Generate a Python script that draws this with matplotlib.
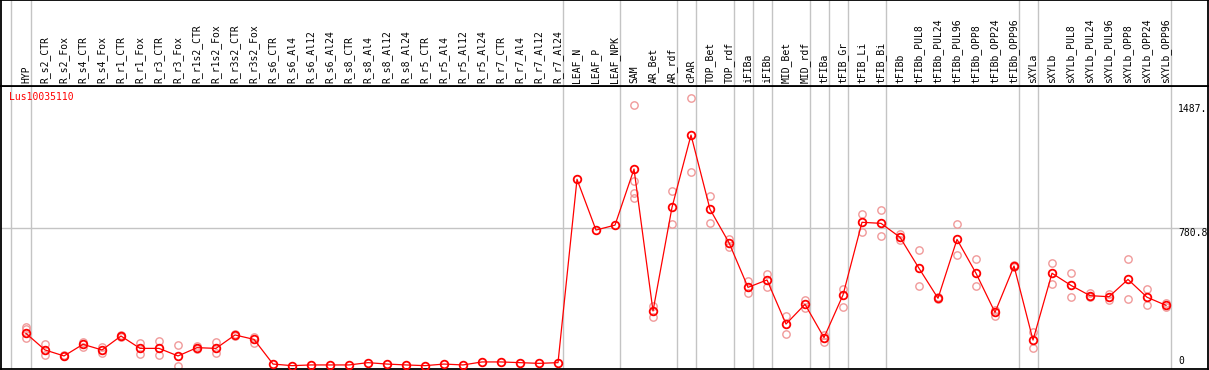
import matplotlib
matplotlib.use("Agg")
import matplotlib.pyplot as plt

# sample names (one column each)
samples = ["HYP",
           "R_s2_CTR", "R_s2_Fox", "R_s4_CTR", "R_s4_Fox", "R_r1_CTR", "R_r1_Fox",
           "R_r3_CTR", "R_r3_Fox", "R_r1s2_CTR", "R_r1s2_Fox", "R_r3s2_CTR", "R_r3s2_Fox",
           "R_s6_CTR", "R_s6_Al4", "R_s6_Al12", "R_s6_Al24",
           "R_s8_CTR", "R_s8_Al4", "R_s8_Al12", "R_s8_Al24",
           "R_r5_CTR", "R_r5_Al4", "R_r5_Al12", "R_r5_Al24",
           "R_r7_CTR", "R_r7_Al4", "R_r7_Al12", "R_r7_Al24",
           "LEAF_N", "LEAF_P", "LEAF_NPK", "SAM", "AR_Bet", "AR_rdf", "cPAR",
           "TOP_Bet", "TOP_rdf", "iFIBa", "iFIBb", "MID_Bet", "MID_rdf",
           "tFIBa", "tFIB_Gr", "tFIB_Li", "tFIB_Bi", "tFIBb",
           "tFIBb_PUL8", "tFIBb_PUL24", "tFIBb_PUL96", "tFIBb_OPP8", "tFIBb_OPP24", "tFIBb_OPP96",
           "sXYLa", "sXYLb",
           "sXYLb_PUL8", "sXYLb_PUL24", "sXYLb_PUL96", "sXYLb_OPP8", "sXYLb_OPP24", "sXYLb_OPP96"]

# mean expression
means = [185,
         91, 57, 123, 91, 170, 100, 100, 57, 104, 100, 176, 151,
         11, 2, 6, 6, 6, 19, 11, 6, 2, 11, 6, 23, 23, 19, 15, 19,
         1059, 771, 799, 1117, 312, 900, 1310,
         889, 699, 446, 488, 238, 350,
         161, 403, 815, 809, 730,
         554, 384, 718, 526, 304, 567,
         147, 526,
         457, 399, 393, 491, 390, 344]

# replicate values (empty = hidden under the mean)
reps = [[223, 208, 160],
        [123, 62], [60, 54], [138, 109], [109, 75], [178, 162], [129, 66],
        [142, 62], [119, 0], [113, 95], [134, 72], [182, 170], [166, 132],
        [], [], [], [], [], [], [], [], [], [], [], [], [], [], [], [],
        [], [], [], [1480, 1051, 983, 951], [340, 276], [992, 805], [1518, 1098],
        [966, 809], [718, 673], [484, 412], [522, 450], [285, 180], [374, 327],
        [176, 138], [437, 333], [862, 762], [885, 737], [748, 714],
        [658, 454], [390, 380], [805, 629], [605, 454], [318, 284], [572, 562],
        [195, 100], [582, 465],
        [526, 390], [412, 393], [408, 374], [605, 378], [437, 344], [355, 333]]

# last column of each group (a gray separator is drawn after it)
group_ends = [0, 28, 31, 34, 35, 37, 38, 39, 41, 42, 43, 45, 52, 53, 60]

gene = "Lus10035110"
y_marks = [1487, 780.8, 0]
y_texts = ["1487.", "780.8", "0"]

W, H = 1209, 370
fig = plt.figure(figsize=(W / 100, H / 100), dpi=100)

x0, x1 = -1.316, 62.21
ax = fig.add_axes([1 / W, 1 - 369 / H, 1207 / W, 283 / H])
hd = fig.add_axes([1 / W, 1 - 86 / H, 1207 / W, 86 / H], sharex=ax)
ax.set_xlim(x0, x1)
ax.set_ylim(-17, 1588)
hd.set_ylim(0, 1)

for a in (ax, hd):
    a.set_xticks([])
    a.set_yticks([])
    for s in a.spines.values():
        s.set_linewidth(1.3)
        s.set_color("black")
    # group separators run through header and plot
    a.axvline(-0.8, color="#c4c4c4", lw=1, zorder=0)
    for g in group_ends:
        a.axvline(g + 0.25, color="#c4c4c4", lw=1, zorder=0)

ax.axhline(780.8, color="#c4c4c4", lw=1, zorder=0)

mono = "DejaVu Sans Mono"
for i, name in enumerate(samples):
    hd.text(i, 3 / 86, name, rotation=90, ha="center", va="bottom",
            family=mono, fontsize=7)

# replicates
for i, r in enumerate(reps):
    if r:
        ax.plot([i] * len(r), r, ls="none", marker="o", ms=5.3,
                mfc="none", mec="#f09a9a", mew=1.0, zorder=2)

# means
ax.plot(range(len(means)), means, color="red", lw=0.9, marker="o", ms=5.5,
        mfc="none", mec="red", mew=1.3, zorder=3)

ax.text(8.5 / 1207, 1 - 11.5 / 283, gene, transform=ax.transAxes,
        color="red", family=mono, fontsize=7, ha="left", va="center")

xr = (1178 - 26) / 19
for v, t in zip(y_marks, y_texts):
    ax.text(xr, v, t, family=mono, fontsize=7, ha="left",
            va="bottom" if v == 0 else "top", clip_on=True)

fig.savefig("out.png", dpi=100)
